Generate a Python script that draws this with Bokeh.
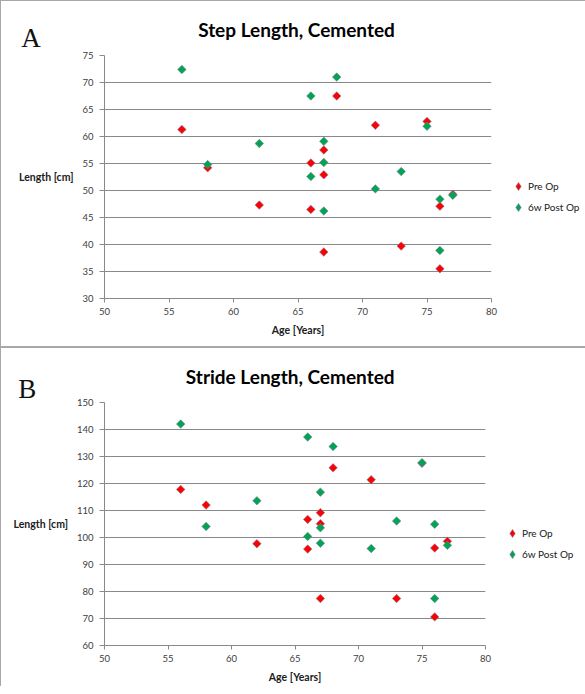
from bokeh.plotting import figure
from bokeh.models import Range1d, FixedTicker, Label, Legend, LegendItem
from bokeh.layouts import column
from bokeh.embed import file_html
from bokeh.resources import INLINE
import numpy as np

# ---------------- data ----------------
ages_pre = [56, 58, 62, 66, 66, 67, 67, 67, 68, 71, 73, 75, 76, 76, 77]
ages_post = [56, 58, 62, 66, 66, 67, 67, 67, 68, 71, 73, 75, 76, 76, 77]

step_pre = [61.3, 54.2, 47.3, 55.1, 46.5, 57.5, 52.9, 38.6, 67.5, 62.1, 39.7, 62.8, 47.1, 35.5, 49.3]
step_post = [72.4, 54.8, 58.7, 67.5, 52.6, 59.1, 55.2, 46.2, 71.0, 50.3, 53.5, 61.9, 48.4, 38.9, 49.1]

stride_pre = [117.8, 112.0, 97.7, 106.7, 95.7, 109.2, 105.1, 77.4, 125.8, 121.4, 77.4, 127.5, 96.1, 70.6, 98.6]
stride_post = [142.0, 104.1, 113.6, 137.2, 100.4, 116.8, 103.6, 97.9, 133.7, 95.9, 106.1, 127.7, 104.9, 77.4, 97.1]

x_ticks = [50, 55, 60, 65, 70, 75, 80]
step_ticks = [30, 35, 40, 45, 50, 55, 60, 65, 70, 75]
stride_ticks = [60, 70, 80, 90, 100, 110, 120, 130, 140, 150]

series_names = ["Pre Op", "6w Post Op"]
series_colors = ["#FF0000", "#00A550"]

FONT = "Lato"
GRID = "#898989"
PANEL_LINE = "#a8a8a8"


def make_panel(title, letter, pre, post, yticks, bl, bt, bb, fw, fh, fig_h,
               legend_xy, letter_px, title_px, shadow):
    x0, x1 = x_ticks[0], x_ticks[-1]
    y0, y1 = yticks[0], yticks[-1]

    def dx(px):
        return x0 + px * (x1 - x0) / fw

    def dy(px):
        return y0 + px * (y1 - y0) / fh

    p = figure(width=576, height=fig_h, frame_width=fw, frame_height=fh,
               min_border_left=bl, min_border_right=576 - bl - fw,
               min_border_top=bt, min_border_bottom=bb,
               x_range=Range1d(x0, x1), y_range=Range1d(y0, y1),
               output_backend="svg", toolbar_location=None, tools="",
               styles={"box-shadow": shadow})
    p.outline_line_color = None
    p.background_fill_color = "white"
    p.border_fill_color = None
    p.xgrid.visible = False
    p.ygrid.grid_line_color = GRID
    p.ygrid.grid_line_width = 1

    p.xaxis.ticker = FixedTicker(ticks=x_ticks)
    p.yaxis.ticker = FixedTicker(ticks=yticks)
    for ax in (p.xaxis[0], p.yaxis[0]):
        ax.axis_line_color = GRID
        ax.major_tick_line_color = GRID
        ax.minor_tick_line_color = None
        ax.major_tick_in = 0
        ax.major_label_text_font = FONT
        ax.major_label_text_font_size = "9.5px"
        ax.major_label_text_color = "#404040"
        ax.axis_label_text_font = FONT
        ax.axis_label_text_font_size = "10.5px"
        ax.axis_label_text_font_style = "bold"
        ax.axis_label_text_color = "#202020"
    p.xaxis.major_tick_out = 4
    p.yaxis.major_tick_out = 5
    p.xaxis.major_label_standoff = 5
    p.yaxis.major_label_standoff = 6
    p.xaxis.axis_label = "Age [Years]"
    p.xaxis.axis_label_standoff = 6
    p.yaxis.axis_label = "Length [cm]"
    p.yaxis.axis_label_orientation = "horizontal"
    p.yaxis.axis_label_standoff = 6

    for ages, vals, col in ((ages_pre, pre, series_colors[0]), (ages_post, post, series_colors[1])):
        p.scatter(ages, vals, marker="square", angle=np.pi / 4, size=6,
                  fill_color=col, line_color="#7a7a9a", line_width=0.6)

    # legend proxies (diamond glyph, no visible point in the plot)
    items = []
    for name, col in zip(series_names, series_colors):
        r = p.scatter([np.nan], [np.nan], marker="diamond", size=8, fill_color=col,
                      line_color="#7a7a9a", line_width=0.6)
        items.append(LegendItem(label=name, renderers=[r]))
    leg = Legend(items=items, location=legend_xy, glyph_width=20, glyph_height=20,
                 label_standoff=0, spacing=1, padding=0, margin=0,
                 border_line_color=None, background_fill_alpha=0,
                 label_text_font=FONT, label_text_font_size="10px",
                 label_text_color="#202020")
    p.add_layout(leg, "right")

    p.add_layout(Label(x=dx(title_px[0]), y=dy(title_px[1]),
                       text=title, text_font=FONT, text_font_size="19px",
                       text_font_style="bold", text_align="center",
                       text_baseline="middle", text_color="black"), "above")
    p.add_layout(Label(x=dx(letter_px[0]), y=dy(letter_px[1]),
                       text=letter, text_font="Liberation Serif", text_font_size="27px",
                       text_align="left", text_baseline="middle", text_color="#111111"), "above")
    return p


shadow_A = "inset 1px 1px 0 0 %s, inset 0 -1px 0 0 %s" % (PANEL_LINE, PANEL_LINE)
shadow_B = "inset 1px 1px 0 0 %s" % PANEL_LINE

pA = make_panel("Step Length, Cemented", "A", step_pre, step_post, step_ticks,
                bl=98, bt=55, bb=49, fw=387, fh=243, fig_h=347,
                legend_xy=(17, 81), letter_px=(-83.3, 260.6), title_px=(192, 269),
                shadow=shadow_A)
pB = make_panel("Stride Length, Cemented", "B", stride_pre, stride_post, stride_ticks,
                bl=104, bt=55, bb=41, fw=381, fh=243, fig_h=339,
                legend_xy=(17, 81), letter_px=(-86.3, 256.7), title_px=(185.7, 269),
                shadow=shadow_B)

layout = column(pA, pB, spacing=0)
open("out.html", "w").write(file_html(layout, INLINE))
